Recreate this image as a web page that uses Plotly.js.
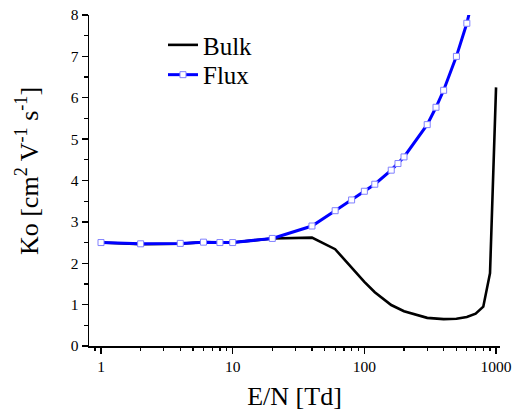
<!DOCTYPE html>
<html>
<head>
<meta charset="utf-8">
<script src="https://cdn.plot.ly/plotly-3.0.1.min.js"></script>
<style>
html,body{margin:0;padding:0;background:#fff;}
#chart{width:513px;height:419px;}
</style>
</head>
<body>
<div id="chart"></div>
<script>
// E/N values [Td]
const bulkEN = [1, 2, 4, 6, 8, 10, 20, 40, 60, 80, 100, 120, 160, 200, 300, 400, 500, 600, 700, 800, 900, 1000];
const bulkKo = [2.50, 2.46, 2.47, 2.51, 2.50, 2.50, 2.60, 2.62, 2.34, 1.88, 1.55, 1.30, 0.99, 0.84, 0.68, 0.65, 0.66, 0.70, 0.78, 0.95, 1.76, 6.25];

const fluxEN = [1, 2, 4, 6, 8, 10, 20, 40, 60, 80, 100, 120, 160, 180, 200, 300, 350, 400, 500, 600, 700];
const fluxKo = [2.50, 2.47, 2.48, 2.51, 2.50, 2.50, 2.60, 2.90, 3.27, 3.53, 3.74, 3.91, 4.25, 4.41, 4.57, 5.35, 5.77, 6.18, 7.00, 7.80, 8.70];

const seriesNames = ["Bulk", "Flux"];
const xTickVals = [1, 10, 100, 1000];
const xTickText = ["1", "10", "100", "1000"];
const yTickVals = [0, 1, 2, 3, 4, 5, 6, 7, 8];
const xTitle = "E/N [Td]";
const yTitle = "Ko [cm<sup>2</sup> V<sup>-1</sup> s<sup>-1</sup>]";

// minor tick positions on the log axis: 2..9 times each decade
const minorDigits = [2, 3, 4, 5, 6, 7, 8, 9];
const minorDecades = [0.1, 1, 10, 100];
const xMinorVals = [];
minorDecades.forEach(d => minorDigits.forEach(m => xMinorVals.push(m * d)));

const serif = "Liberation Serif, Times New Roman, serif";

const traces = [
  {
    x: bulkEN, y: bulkKo, name: seriesNames[0], legend: "legend",
    type: "scatter", mode: "lines",
    line: {color: "#000000", width: 2.6}
  },
  {
    x: fluxEN, y: fluxKo, name: seriesNames[1], legend: "legend2",
    type: "scatter", mode: "lines+markers",
    line: {color: "#0000ff", width: 3},
    marker: {symbol: "square", size: 6, color: "#ffffff", line: {color: "#8080ff", width: 1}}
  }
];

const legendStyle = {
  xanchor: "left", yanchor: "middle",
  font: {family: serif, size: 25, color: "#000000"},
  bgcolor: "rgba(0,0,0,0)", borderwidth: 0
};

const layout = {
  width: 513, height: 419,
  margin: {l: 89, r: 13, t: 15, b: 73},
  paper_bgcolor: "#ffffff", plot_bgcolor: "#ffffff",
  font: {family: serif, color: "#000000", size: 15},
  showlegend: true,
  legend: Object.assign({x: 0.18, y: 0.909}, legendStyle),
  legend2: Object.assign({x: 0.18, y: 0.819}, legendStyle),
  xaxis: {
    type: "log",
    range: [-0.0911, 3.030],
    tickvals: xTickVals, ticktext: xTickText,
    ticks: "outside", ticklen: 6, tickwidth: 1.3, tickcolor: "#000",
    minor: {tickmode: "array", tickvals: xMinorVals, ticks: "outside", ticklen: 3.5, tickwidth: 1.2, tickcolor: "#000", showgrid: false},
    showline: true, linecolor: "#000", linewidth: 1.5,
    showgrid: false, zeroline: false,
    tickfont: {family: serif, size: 15.5, color: "#000"},
    title: {text: xTitle, font: {family: serif, size: 26, color: "#000"}, standoff: 12}
  },
  yaxis: {
    range: [0, 8],
    tickvals: yTickVals,
    ticks: "outside", ticklen: 6, tickwidth: 1.3, tickcolor: "#000",
    minor: {dtick: 0.5, ticks: "outside", ticklen: 3.5, tickwidth: 1.2, tickcolor: "#000", showgrid: false},
    showline: true, linecolor: "#000", linewidth: 1.5,
    showgrid: false, zeroline: false,
    tickfont: {family: serif, size: 15.5, color: "#000"}
  },
  annotations: [{
    text: yTitle, textangle: -90,
    xref: "paper", yref: "paper", x: -0.148, y: 0.529,
    xanchor: "center", yanchor: "middle", showarrow: false,
    font: {family: serif, size: 26, color: "#000"}
  }]
};

Plotly.newPlot("chart", traces, layout, {displayModeBar: false, staticPlot: true});
</script>
</body>
</html>
